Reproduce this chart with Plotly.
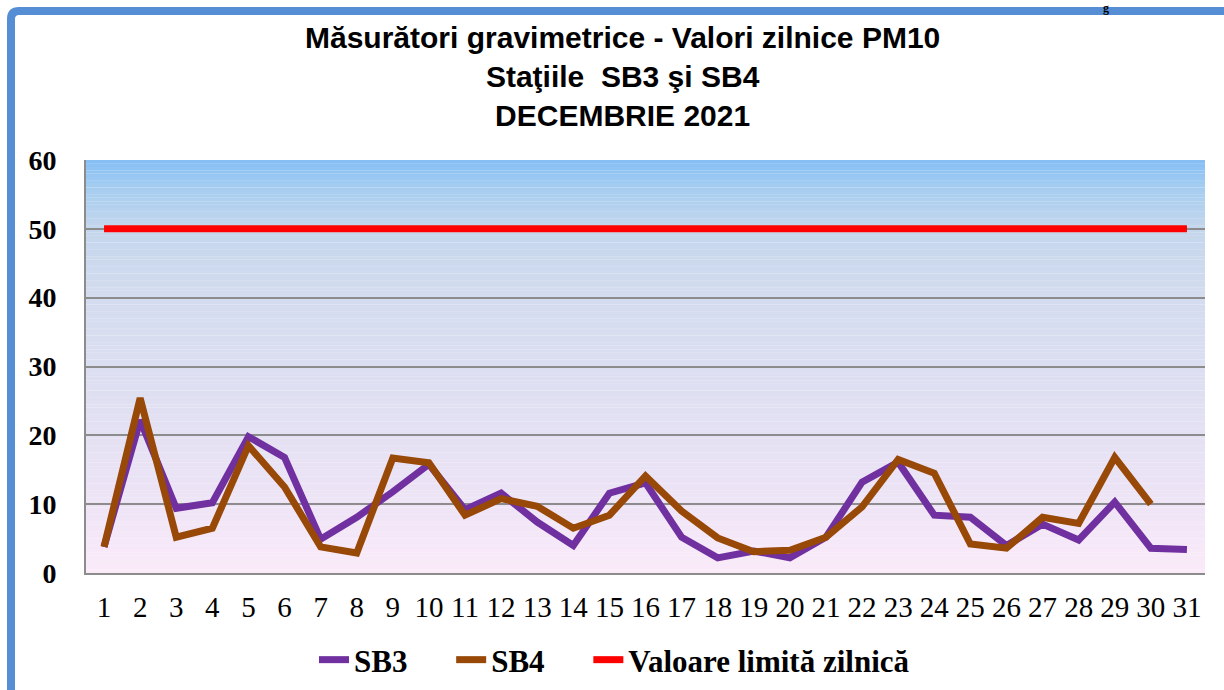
import plotly.graph_objects as go

days = [str(d) for d in range(1, 32)]
sb3 = [3.8, 22.2, 9.4, 10.2, 19.8, 16.8, 4.9, 8.1, 11.8, 15.8, 9.2, 11.6, 7.4, 4.0, 11.6, 13.1,
       5.2, 2.2, 3.2, 2.2, 5.2, 13.2, 16.1, 8.4, 8.1, 4.0, 7.1, 4.8, 10.3, 3.6, 3.4]
sb4 = [3.8, 25.4, 5.2, 6.5, 18.5, 12.5, 3.8, 2.9, 16.7, 16.0, 8.4, 10.8, 9.7, 6.5, 8.4, 14.1,
       9.0, 5.1, 3.1, 3.3, 5.2, 9.6, 16.5, 14.5, 4.2, 3.6, 8.1, 7.2, 16.8, 10.0, None]
limit = [50] * 31

series_names = ["SB3", "SB4", "Valoare limită zilnică"]
title_lines = ["Măsurători gravimetrice - Valori zilnice PM10", "Staţiile  SB3 şi SB4", "DECEMBRIE 2021"]

W, H = 1224, 690
L, R, T, B = 86, 19, 160, 117
PW, PH = W - L - R, H - T - B


def px(x):
    return (x - L) / PW


def py(y):
    return (H - B - y) / PH


pad = "\u00a0" * 5

fig = go.Figure()
fig.add_trace(go.Scatter(x=days, y=sb3, name="<b>%s</b>%s" % (series_names[0], pad), mode="lines",
                         line=dict(color="#7030A0", width=7)))
fig.add_trace(go.Scatter(x=days, y=sb4, name="<b>%s</b>%s" % (series_names[1], pad), mode="lines",
                         line=dict(color="#984807", width=7)))
fig.add_trace(go.Scatter(x=days, y=limit, name="<b>%s</b>" % series_names[2], mode="lines",
                         line=dict(color="#FF0000", width=7)))

# gradient plot background
stops = [(0, (251, 235, 249)), (10, (238, 228, 246)), (20, (228, 225, 243)), (30, (220, 222, 241)),
         (40, (212, 220, 239)), (50, (196, 214, 236)), (56, (165, 205, 240)), (60, (133, 190, 245))]


def col(v):
    for (a, ca), (b, cb) in zip(stops[:-1], stops[1:]):
        if a <= v <= b:
            t = (v - a) / (b - a)
            c = [round(ca[i] + (cb[i] - ca[i]) * t) for i in range(3)]
            return "rgb(%d,%d,%d)" % tuple(c)
    return "rgb(133,190,245)"


shapes = []
n = 120
for i in range(n):
    y0 = 60 * i / n
    y1 = 60 * (i + 1) / n
    shapes.append(dict(type="rect", xref="x domain", yref="y", x0=0, x1=1, y0=y0, y1=y1 + 0.02,
                       fillcolor=col((y0 + y1) / 2), line=dict(width=0), layer="below"))

# outer blue frame (top and left)
r = 8
path = "M {},{} L {},{} Q {},{} {},{} L {},{}".format(
    px(11), py(700), px(11), py(11 + r), px(11), py(11), px(11 + r), py(11), px(1240), py(11))
shapes.append(dict(type="path", xref="paper", yref="paper", path=path,
                   line=dict(color="#558ED5", width=8)))

annotations = [
    dict(text="<br>".join("<b>%s</b>" % t for t in title_lines), xref="paper", yref="paper",
         x=px(622), y=py(77), xanchor="center", yanchor="middle", showarrow=False,
         font=dict(family="Liberation Sans, Arial", size=30, color="black")),
    dict(text="<b>g</b>", xref="paper", yref="paper", x=px(1106), y=py(-1),
         xanchor="center", yanchor="top", showarrow=False,
         font=dict(family="Liberation Serif", size=12, color="black")),
]

fig.update_layout(
    width=W, height=H,
    margin=dict(l=L, r=R, t=T, b=B, autoexpand=False),
    paper_bgcolor="white", plot_bgcolor="rgba(0,0,0,0)",
    shapes=shapes, annotations=annotations,
    showlegend=True,
    legend=dict(orientation="h", x=px(314), xanchor="left", y=py(660), yanchor="middle",
                font=dict(family="Liberation Serif", size=31, color="black"),
                bgcolor="rgba(0,0,0,0)", tracegroupgap=0, itemwidth=30),
    xaxis=dict(type="category", range=[-0.5, 30.5], showgrid=False, showline=True,
               linecolor="#8C8C8C", linewidth=2, ticks="", ticklabelstandoff=7,
               tickfont=dict(family="Liberation Serif", size=29, color="black")),
    yaxis=dict(range=[0, 60], dtick=10, showgrid=True, gridcolor="#8C8C8C", gridwidth=2,
               showline=True, linecolor="#8C8C8C", linewidth=2, ticks="", ticklabelstandoff=22,
               zeroline=False,
               tickfont=dict(family="Liberation Serif", size=28, color="black", weight="bold")),
)

fig.write_html("out.html", config={"displayModeBar": False},
               post_script="document.body.style.margin='0px';")
